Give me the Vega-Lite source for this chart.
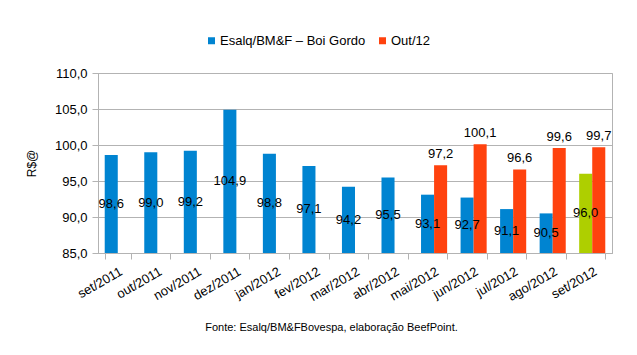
{
  "$schema": "https://vega.github.io/schema/vega-lite/v6.json",
  "autosize": {"type": "none"},
  "width": 514,
  "height": 180,
  "padding": {"left": 98, "top": 73, "right": 25, "bottom": 102},
  "background": "white",
  "config": {
    "font": "Arial, Liberation Sans, sans-serif",
    "locale": {"number": {"decimal": ",", "thousands": ".", "grouping": [3], "currency": ["R$", ""]}},
    "view": {"stroke": "#b3b3b3", "strokeWidth": 1}
  },
  "data": {
    "values": [
      {"mes": "set/2011", "serie": "Esalq/BM&F – Boi Gordo", "cor": "Esalq/BM&F – Boi Gordo", "valor": 98.6},
      {"mes": "out/2011", "serie": "Esalq/BM&F – Boi Gordo", "cor": "Esalq/BM&F – Boi Gordo", "valor": 99.0},
      {"mes": "nov/2011", "serie": "Esalq/BM&F – Boi Gordo", "cor": "Esalq/BM&F – Boi Gordo", "valor": 99.2},
      {"mes": "dez/2011", "serie": "Esalq/BM&F – Boi Gordo", "cor": "Esalq/BM&F – Boi Gordo", "valor": 104.9},
      {"mes": "jan/2012", "serie": "Esalq/BM&F – Boi Gordo", "cor": "Esalq/BM&F – Boi Gordo", "valor": 98.8},
      {"mes": "fev/2012", "serie": "Esalq/BM&F – Boi Gordo", "cor": "Esalq/BM&F – Boi Gordo", "valor": 97.1},
      {"mes": "mar/2012", "serie": "Esalq/BM&F – Boi Gordo", "cor": "Esalq/BM&F – Boi Gordo", "valor": 94.2},
      {"mes": "abr/2012", "serie": "Esalq/BM&F – Boi Gordo", "cor": "Esalq/BM&F – Boi Gordo", "valor": 95.5},
      {"mes": "mai/2012", "serie": "Esalq/BM&F – Boi Gordo", "cor": "Esalq/BM&F – Boi Gordo", "valor": 93.1},
      {"mes": "jun/2012", "serie": "Esalq/BM&F – Boi Gordo", "cor": "Esalq/BM&F – Boi Gordo", "valor": 92.7},
      {"mes": "jul/2012", "serie": "Esalq/BM&F – Boi Gordo", "cor": "Esalq/BM&F – Boi Gordo", "valor": 91.1},
      {"mes": "ago/2012", "serie": "Esalq/BM&F – Boi Gordo", "cor": "Esalq/BM&F – Boi Gordo", "valor": 90.5},
      {"mes": "set/2012", "serie": "Esalq/BM&F – Boi Gordo", "cor": "destaque", "valor": 96.0},
      {"mes": "mai/2012", "serie": "Out/12", "cor": "Out/12", "valor": 97.2},
      {"mes": "jun/2012", "serie": "Out/12", "cor": "Out/12", "valor": 100.1},
      {"mes": "jul/2012", "serie": "Out/12", "cor": "Out/12", "valor": 96.6},
      {"mes": "ago/2012", "serie": "Out/12", "cor": "Out/12", "valor": 99.6},
      {"mes": "set/2012", "serie": "Out/12", "cor": "Out/12", "valor": 99.7}
    ]
  },
  "encoding": {
    "x": {
      "field": "mes", "type": "nominal",
      "sort": ["set/2011","out/2011","nov/2011","dez/2011","jan/2012","fev/2012","mar/2012","abr/2012","mai/2012","jun/2012","jul/2012","ago/2012","set/2012"],
      "scale": {"paddingInner": 0.34, "paddingOuter": 0.17},
      "axis": {
        "title": "Fonte: Esalq/BM&FBovespa, elaboração BeefPoint.",
        "titleFontSize": 11, "titleFontWeight": "normal", "titleColor": "#000000",
        "titleX": 233, "titleY": 74, "titleAlign": "center", "titleBaseline": "middle", "titleAnchor": null,
        "labelAngle": -30, "labelAlign": "right", "labelBaseline": "top",
        "labelFontSize": 13, "labelColor": "#000000", "labelPadding": 6, "labelOverlap": false,
        "tickBand": "extent", "tickSize": 6, "tickColor": "#b3b3b3",
        "domainColor": "#b3b3b3", "grid": false
      }
    },
    "xOffset": {"field": "serie", "type": "nominal", "sort": ["Esalq/BM&F – Boi Gordo", "Out/12"], "scale": {"paddingInner": 0, "paddingOuter": 0}}
  },
  "layer": [
    {
      "mark": {"type": "bar"},
      "encoding": {
        "y": {
          "field": "valor", "type": "quantitative",
          "scale": {"domain": [85, 110], "zero": false, "nice": false},
          "axis": {
            "title": "R$@", "titleFontSize": 12, "titleFontWeight": "normal", "titleColor": "#000000",
            "titleX": -67, "titleY": 90, "titleAlign": "center", "titleBaseline": "middle", "titleAnchor": null,
            "values": [85, 90, 95, 100, 105, 110], "tickCount": 10, "format": ".1f", "labelOverlap": false,
            "labelFontSize": 13, "labelColor": "#000000", "labelPadding": 5,
            "tickSize": 6, "tickColor": "#b3b3b3", "domainColor": "#b3b3b3",
            "gridColor": "#b3b3b3", "gridOpacity": 1
          }
        },
        "y2": {"datum": 85},
        "color": {
          "field": "cor", "type": "nominal",
          "scale": {"domain": ["Esalq/BM&F – Boi Gordo", "Out/12", "destaque"], "range": ["#0084d1", "#ff420e", "#aecf00"]},
          "legend": {
            "title": null, "values": ["Esalq/BM&F – Boi Gordo", "Out/12"],
            "orient": "none", "direction": "horizontal", "legendX": 107, "legendY": -39,
            "symbolType": "square", "symbolSize": 49, "symbolStrokeWidth": 0,
            "labelFontSize": 13, "labelColor": "#000000", "labelOffset": 2, "columnPadding": 10, "padding": 0
          }
        }
      }
    },
    {
      "transform": [
        {"filter": "datum.serie === 'Esalq/BM&F – Boi Gordo'"},
        {"calculate": "(datum.valor + 85) / 2", "as": "meio"}
      ],
      "mark": {"type": "text", "fontSize": 13, "color": "#000000", "baseline": "middle"},
      "encoding": {
        "y": {"field": "meio", "type": "quantitative"},
        "text": {"field": "valor", "type": "quantitative", "format": ".1f"}
      }
    },
    {
      "transform": [{"filter": "datum.serie === 'Out/12'"}],
      "mark": {"type": "text", "fontSize": 13, "color": "#000000", "baseline": "bottom", "dy": -4},
      "encoding": {
        "y": {"field": "valor", "type": "quantitative"},
        "text": {"field": "valor", "type": "quantitative", "format": ".1f"}
      }
    }
  ]
}
